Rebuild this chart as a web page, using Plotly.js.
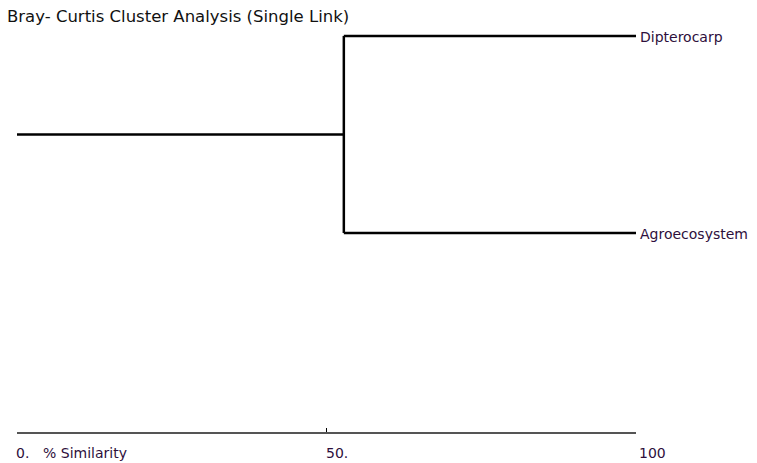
<!DOCTYPE html>
<html>
<head>
<meta charset="utf-8">
<script src="https://cdn.plot.ly/plotly-3.0.1.min.js"></script>
<style>html,body{margin:0;padding:0;background:#fff;}#chart{width:757px;height:463px;}</style>
</head>
<body>
<div id="chart"></div>
<script>
// Data
const leafNames = ["Dipterocarp", "Agroecosystem"];
const leafPos = [1, 0];            // vertical order of leaves
const mergeSimilarity = 52.8;      // % similarity at which the two sites join
const leafSimilarity = 100;
const rootSimilarity = 0;
const tickVals = [0, 50, 100];
const tickTexts = ["0.", "50.", "100"];
const axisTitle = "% Similarity";
const chartTitle = "Bray- Curtis Cluster Analysis (Single Link)";

// Build dendrogram segments
const mid = (leafPos[0] + leafPos[1]) / 2;
const xs = [], ys = [];
xs.push(rootSimilarity, mergeSimilarity, null); ys.push(mid, mid, null);
xs.push(mergeSimilarity, mergeSimilarity, null); ys.push(leafPos[0], leafPos[1], null);
leafPos.forEach(p => { xs.push(mergeSimilarity, leafSimilarity, null); ys.push(p, p, null); });

const FONT = "DejaVu Sans, Liberation Sans, Arial, sans-serif";
const labelColor = "#2e0f3c";
const annotations = [];
leafNames.forEach((n, i) => annotations.push({
  x: leafSimilarity, y: leafPos[i], xref: "x", yref: "y", text: n, showarrow: false,
  xanchor: "left", yanchor: "middle", xshift: 2, yshift: -1,
  font: {family: FONT, size: 14, color: labelColor}
}));
tickVals.forEach((v, i) => annotations.push({
  x: v, y: 0, xref: "x", yref: "paper", text: tickTexts[i], showarrow: false,
  xanchor: "left", yanchor: "top", xshift: v === 100 ? 1 : -3, yshift: -11,
  font: {family: FONT, size: 14, color: labelColor}
}));
annotations.push({
  x: 0, y: 0, xref: "x", yref: "paper", text: axisTitle, showarrow: false,
  xanchor: "left", yanchor: "top", xshift: 24, yshift: -11,
  font: {family: FONT, size: 14, color: labelColor}
});

const data = [{
  x: xs, y: ys, type: "scatter", mode: "lines",
  line: {color: "#000000", width: 2.5}, hoverinfo: "skip", connectgaps: false
}];

const layout = {
  width: 757, height: 463,
  margin: {l: 17, r: 121, t: 30, b: 31},
  paper_bgcolor: "#ffffff", plot_bgcolor: "#ffffff",
  showlegend: false,
  title: {
    text: chartTitle, xref: "container", yref: "container",
    x: 7/757, xanchor: "left", y: 1 - 16/463, yanchor: "middle",
    font: {family: FONT, size: 16.5, color: "#111111"}
  },
  xaxis: {
    range: [0, 100], showgrid: false, zeroline: false,
    showline: true, linecolor: "#555555", linewidth: 2,
    ticks: "inside", ticklen: 4, tickcolor: "#000000", tickwidth: 1,
    tickvals: tickVals, showticklabels: false, fixedrange: true
  },
  yaxis: {
    range: [-1.01, 1.03], showgrid: false, zeroline: false, showline: false,
    showticklabels: false, ticks: "", fixedrange: true
  },
  annotations: annotations
};

Plotly.newPlot("chart", data, layout, {staticPlot: true, displayModeBar: false});
</script>
</body>
</html>
